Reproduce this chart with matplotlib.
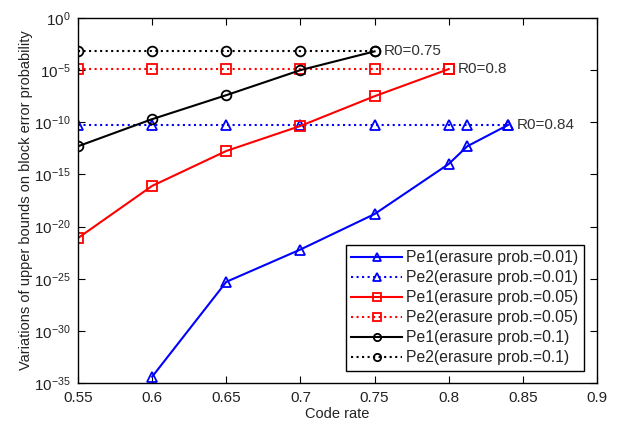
import numpy as np
import matplotlib.pyplot as plt
from matplotlib.ticker import FixedLocator, NullLocator

plt.rcParams['font.family'] = ['Liberation Sans', 'DejaVu Sans']

# 码率
rate_a = [0.6, 0.65, 0.7, 0.75, 0.8, 0.8125, 0.84]
rate_b = [0.55, 0.6, 0.65, 0.7, 0.75, 0.8, 0.8125, 0.84]
rate_c = [0.55, 0.6, 0.65, 0.7, 0.75, 0.8]
rate_d = [0.55, 0.6, 0.65, 0.7, 0.75]

# 指数（log10）
pe1_001 = [-34.4, -25.3, -22.2, -18.8, -14.0, -12.3, -10.26]
pe2_001 = [-10.26] * 8
pe1_005 = [-21.1, -16.1, -12.75, -10.35, -7.5, -4.9]
pe2_005 = [-4.9] * 6
pe1_01 = [-12.3, -9.7, -7.4, -5.0, -3.2]
pe2_01 = [-3.2] * 5

labels = ['Pe1(erasure prob.=0.01)', 'Pe2(erasure prob.=0.01)',
          'Pe1(erasure prob.=0.05)', 'Pe2(erasure prob.=0.05)',
          'Pe1(erasure prob.=0.1)', 'Pe2(erasure prob.=0.1)']

fig = plt.figure(figsize=(6.25, 4.21), dpi=100)
ax = fig.add_axes([78 / 625, 1 - 383 / 421, 519 / 625, 365 / 421])

ms = 7
lw = 1.5
mew = 1.3
ax.plot(rate_a, 10.0 ** np.array(pe1_001), 'b-', marker='^', mfc='none', ms=ms, lw=lw, mew=mew, label=labels[0])
ax.plot(rate_b, 10.0 ** np.array(pe2_001), 'b:', marker='^', mfc='none', ms=ms, lw=lw, mew=mew, label=labels[1])
ax.plot(rate_c, 10.0 ** np.array(pe1_005), 'r-', marker='s', mfc='none', ms=ms, lw=lw, mew=mew, label=labels[2])
ax.plot(rate_c, 10.0 ** np.array(pe2_005), 'r:', marker='s', mfc='none', ms=ms, lw=lw, mew=mew, label=labels[3])
ax.plot(rate_d, 10.0 ** np.array(pe1_01), 'k-', marker='o', mfc='none', ms=ms, lw=lw, mew=mew, label=labels[4])
ax.plot(rate_d, 10.0 ** np.array(pe2_01), 'k:', marker='o', mfc='none', ms=ms, lw=lw, mew=mew, label=labels[5])

ax.set_yscale('log')
ax.set_xlim(0.55, 0.9)
ax.set_ylim(1e-35, 1e0)
ax.set_xticks([0.55, 0.6, 0.65, 0.7, 0.75, 0.8, 0.85, 0.9])
ax.set_xticklabels(['0.55', '0.6', '0.65', '0.7', '0.75', '0.8', '0.85', '0.9'])
ax.yaxis.set_major_locator(FixedLocator([10.0 ** k for k in range(-35, 1, 5)]))
ax.yaxis.set_minor_locator(NullLocator())
ax.tick_params(direction='in', top=True, right=True, length=5, labelsize=11, labelcolor='#222222')
ax.tick_params(axis='x', pad=6)
ax.tick_params(axis='y', pad=5)
for sp in ax.spines.values():
    sp.set_linewidth(1.0)

ax.text(0.756, 10 ** -3.2, 'R0=0.75', fontsize=11, va='center', color='#333333')
ax.text(0.806, 10 ** -4.9, 'R0=0.8', fontsize=11, va='center', color='#333333')
ax.text(0.846, 10 ** -10.26, 'R0=0.84', fontsize=11, va='center', color='#333333')

ax.set_xlabel('Code rate', fontsize=10.5, labelpad=1, color='#222222')
ax.set_ylabel('Variations of upper bounds on block error probability', fontsize=10.5, labelpad=1, color='#222222')

leg = ax.legend(loc='lower right', bbox_to_anchor=(0.975, 0.033), fontsize=11.3, fancybox=False,
                edgecolor='black', framealpha=1, handlelength=3.2, labelspacing=0.32,
                borderpad=0.35, handletextpad=0.3, markerscale=0.75, borderaxespad=0)
leg.get_frame().set_linewidth(1.0)
for t in leg.get_texts():
    t.set_color('#222222')

plt.savefig('out.png', dpi=100)
